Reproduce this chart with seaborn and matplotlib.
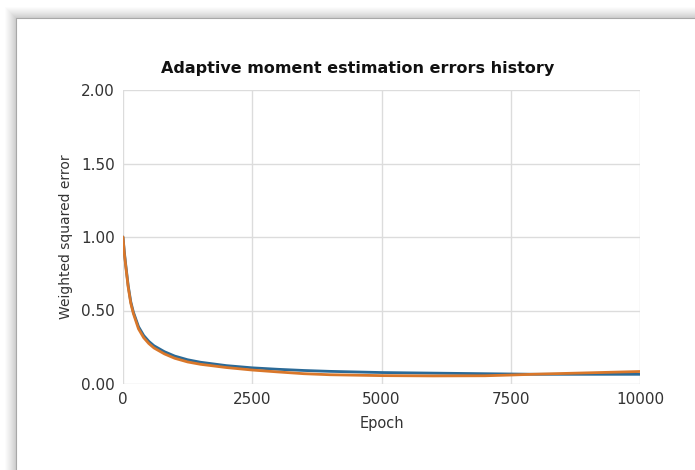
import matplotlib
matplotlib.use("Agg")
import matplotlib.pyplot as plt
import seaborn as sns
import pandas as pd
from matplotlib.patches import Rectangle

epochs = [0, 25, 50, 100, 150, 200, 300, 400, 500, 600, 800, 1000, 1250, 1500,
          2000, 2500, 3000, 3500, 4000, 5000, 6000, 7000, 7500, 8000, 9000, 10000]
blue_err = [1.00, 0.90, 0.82, 0.67, 0.56, 0.49, 0.39, 0.33, 0.29, 0.26, 0.22, 0.19,
            0.165, 0.148, 0.125, 0.110, 0.100, 0.092, 0.086, 0.078, 0.074, 0.070,
            0.068, 0.066, 0.066, 0.066]
orange_err = [1.00, 0.89, 0.81, 0.66, 0.55, 0.48, 0.375, 0.315, 0.275, 0.245, 0.205,
              0.175, 0.150, 0.134, 0.112, 0.095, 0.082, 0.070, 0.063, 0.057, 0.055,
              0.056, 0.061, 0.067, 0.076, 0.085]

title = "Adaptive moment estimation errors history"
xlabel = "Epoch"
ylabel = "Weighted squared error"
xticks = [0, 2500, 5000, 7500, 10000]
yticks = [0.0, 0.5, 1.0, 1.5, 2.0]

df = pd.DataFrame({
    "Epoch": epochs * 2,
    "Error": blue_err + orange_err,
    "Series": ["A"] * len(epochs) + ["B"] * len(epochs),
})

sns.set_theme(style="whitegrid")
plt.rcParams["font.family"] = ["DejaVu Sans"]

W, H = 695, 470
fig = plt.figure(figsize=(W / 100, H / 100), dpi=100)
fig.patch.set_facecolor("white")

# shadow frame
x0, y0 = 16, 18
for d in range(11, 0, -1):
    a = 0.02 + 0.025 * (11 - d) / 11
    fig.patches.append(Rectangle(((x0 - d) / W, -0.1), 2, (1 - (y0 - d) / H) + 0.1,
                                 transform=fig.transFigure, facecolor="#707070",
                                 edgecolor="none", alpha=a, zorder=0))
fig.patches.append(Rectangle((x0 / W, -0.1), 2, (1 - y0 / H) + 0.1,
                             transform=fig.transFigure, facecolor="white",
                             edgecolor="#a8a8a8", linewidth=0.8, zorder=1))

ax = fig.add_axes([123 / W, 1 - 384 / H, (640 - 123) / W, (384 - 90) / H])
ax.set_zorder(2)
ax.set_facecolor("white")

sns.lineplot(data=df, x="Epoch", y="Error", hue="Series",
             palette=["#2b6a97", "#d9772a"], linewidth=2.0, ax=ax, legend=False)

ax.set_xlim(0, 10000)
ax.set_ylim(0, 2.0)
ax.set_xticks(xticks)
ax.set_xticklabels([str(t) for t in xticks])
ax.set_yticks(yticks)
ax.set_yticklabels([f"{t:.2f}" for t in yticks])
ax.grid(True, color="#dcdcdc", linewidth=1.0)
for s in ax.spines.values():
    s.set_visible(False)
ax.tick_params(axis="both", length=5, width=1, color="#d0d0d0", labelsize=11,
               labelcolor="#333333", pad=1)
ax.set_xlabel(xlabel, fontsize=10.5, color="#333333", labelpad=6)
ax.set_ylabel(ylabel, fontsize=10, color="#333333", labelpad=6)

fig.text(358 / W, 1 - 68 / H, title, ha="center", va="center",
         fontsize=11.5, fontweight="bold", color="#111111")

fig.savefig("out.png", dpi=100)
